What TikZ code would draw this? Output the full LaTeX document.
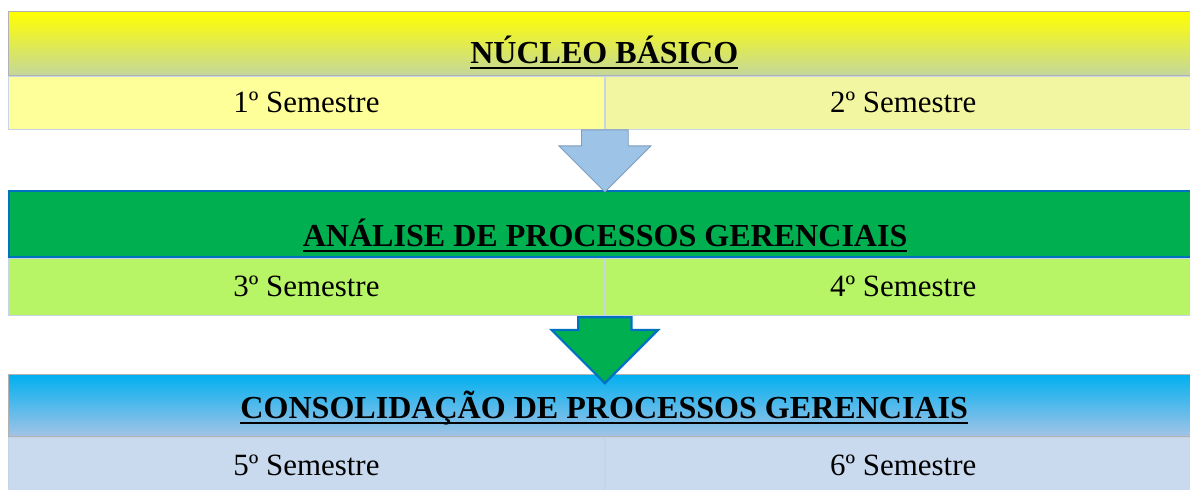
\documentclass[tikz,border=0pt]{standalone}
\usepackage{fontspec}
\setmainfont{Liberation Serif}
\usepackage{xcolor}
\usepackage{tikz}
\usetikzlibrary{arrows.meta}
\usetikzlibrary{positioning}
\usetikzlibrary{shapes}
\usetikzlibrary{calc}

% thick underline for the block titles
\newcommand{\barunder}[1]{\setbox0=\hbox{#1}%
  \rlap{\vrule width\wd0 height -0.11em depth 0.18em}\box0}

\definecolor{nucleotop}{HTML}{FFFF00}
\definecolor{nucleobot}{HTML}{C4D79B}
\definecolor{nucleoleft}{HTML}{FFFF99}
\definecolor{nucleoright}{HTML}{F3F6A0}
\definecolor{analisefill}{HTML}{00B050}
\definecolor{analiserow}{HTML}{B8F566}
\definecolor{consoltop}{HTML}{00B0F0}
\definecolor{consolbot}{HTML}{A3C3E6}
\definecolor{consolrow}{HTML}{C9D9EE}
\definecolor{edgeblue}{HTML}{0070C0}
\definecolor{arrowblue}{HTML}{9DC3E6}
\definecolor{arrowedge}{HTML}{7F9DBB}
\definecolor{rowline}{HTML}{C5D5E6}

\begin{document}
\begin{tikzpicture}[
    header/.style={rectangle, anchor=north west, minimum width=29.8cm,
      inner sep=0pt, text depth=0pt,
      font=\fontsize{22.8}{27}\selectfont\bfseries},
    semester/.style={rectangle, minimum width=14.9cm, inner sep=0pt,
      text depth=0pt, font=\fontsize{22}{26}\selectfont,
      draw=rowline, line width=0.6pt},
    bigarrow/.style={single arrow, rotate=-90, anchor=tail,
      minimum height=1.55cm, inner xsep=0pt, inner ysep=0.575cm,
      single arrow head extend=0.5625cm},
  ]
  \useasboundingbox (0,0) rectangle (29.75,-12.225);

  % nucleo basico
  \node[header, minimum height=1.6cm, text height=1cm,
        top color=nucleotop, bottom color=nucleobot, draw=gray!60]
        (nucleo) at (0.2,-0.275) {\barunder{NÚCLEO BÁSICO}};
  \node[semester, minimum height=1.325cm, text height=0.525cm, fill=nucleoleft]
        (sem1) [below right=0pt and 0pt of nucleo.south west] {1º Semestre};
  \node[semester, minimum height=1.325cm, text height=0.525cm, fill=nucleoright]
        (sem2) [right=0pt of sem1] {2º Semestre};

  % analise
  \node[header, minimum height=1.65cm, text height=1.1cm,
        fill=analisefill, draw=edgeblue, line width=1.6pt]
        (analise) at (0.2,-4.75) {\barunder{ANÁLISE DE PROCESSOS GERENCIAIS}};
  \node[semester, minimum height=1.425cm, text height=0.475cm, fill=analiserow]
        (sem3) [below right=0pt and 0pt of analise.south west] {3º Semestre};
  \node[semester, minimum height=1.425cm, text height=0.475cm, fill=analiserow]
        (sem4) [right=0pt of sem3] {4º Semestre};

  % consolidacao
  \node[header, minimum height=1.55cm, text height=0.65cm,
        top color=consoltop, bottom color=consolbot, draw=gray!60]
        (consol) at (0.2,-9.35) {\barunder{CONSOLIDAÇÃO DE PROCESSOS GERENCIAIS}};
  \node[semester, minimum height=1.4cm, text height=0.55cm, fill=consolrow]
        (sem5) [below right=0pt and 0pt of consol.south west] {5º Semestre};
  \node[semester, minimum height=1.4cm, text height=0.55cm, fill=consolrow]
        (sem6) [right=0pt of sem5] {6º Semestre};

  % arrows between the blocks
  \node[bigarrow, fill=arrowblue, draw=arrowedge, line width=0.6pt]
        (pass1) at (sem1.south east) {};
  \node[bigarrow, fill=analisefill, draw=edgeblue, line width=1.6pt,
        minimum height=1.65cm, inner ysep=0.6375cm, single arrow head extend=0.6625cm]
        (pass2) at (sem3.south east) {};
\end{tikzpicture}
\end{document}
